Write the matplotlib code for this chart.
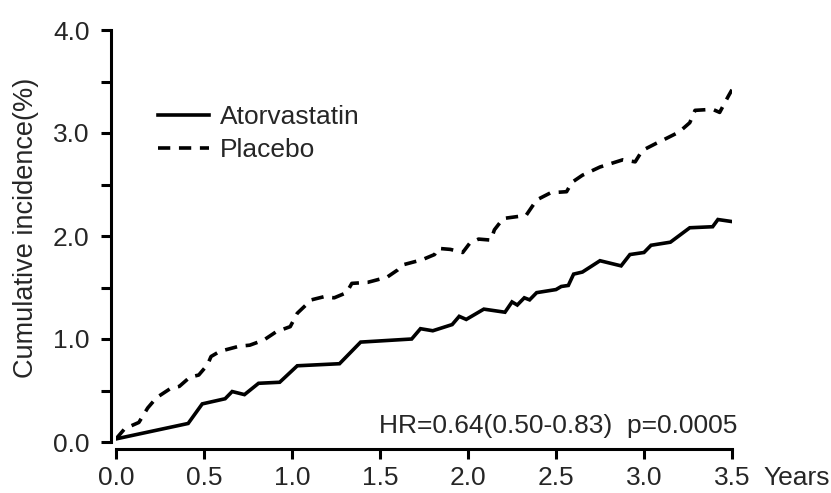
import matplotlib
matplotlib.use('Agg')
from matplotlib import pyplot as plt
from matplotlib.ticker import MultipleLocator

# (years, cumulative incidence %)
atorva_x = [0.0, 0.41, 0.49, 0.62, 0.66, 0.73, 0.81, 0.93, 1.03, 1.27, 1.39,
            1.68, 1.73, 1.80, 1.91, 1.95, 1.99, 2.09, 2.21, 2.25, 2.28, 2.32,
            2.35, 2.39, 2.50, 2.53, 2.57, 2.60, 2.65, 2.75, 2.87, 2.92, 3.00,
            3.04, 3.15, 3.26, 3.39, 3.42, 3.50]
atorva_y = [0.03, 0.18, 0.37, 0.42, 0.49, 0.46, 0.57, 0.58, 0.74, 0.76, 0.97,
            1.00, 1.10, 1.08, 1.14, 1.22, 1.19, 1.29, 1.26, 1.36, 1.33, 1.40,
            1.38, 1.45, 1.48, 1.51, 1.52, 1.63, 1.65, 1.76, 1.71, 1.82, 1.84,
            1.91, 1.94, 2.08, 2.09, 2.16, 2.14]

placebo_x = [0.0, 0.05, 0.13, 0.18, 0.23, 0.31, 0.36, 0.42, 0.47, 0.52, 0.54,
             0.59, 0.70, 0.76, 0.84, 0.91, 0.99, 1.03, 1.11, 1.18, 1.24, 1.31,
             1.34, 1.43, 1.54, 1.60, 1.63, 1.74, 1.81, 1.83, 1.90, 1.97, 2.01,
             2.06, 2.13, 2.15, 2.20, 2.33, 2.39, 2.47, 2.56, 2.59, 2.65, 2.75,
             2.88, 2.95, 2.99, 3.07, 3.13, 3.20, 3.26, 3.29, 3.39, 3.43, 3.48,
             3.50]
placebo_y = [0.03, 0.13, 0.19, 0.33, 0.43, 0.52, 0.54, 0.63, 0.65, 0.75, 0.83,
             0.88, 0.93, 0.94, 0.99, 1.07, 1.12, 1.25, 1.38, 1.41, 1.40, 1.45,
             1.54, 1.55, 1.60, 1.67, 1.72, 1.77, 1.82, 1.88, 1.87, 1.84, 1.93,
             1.97, 1.96, 2.06, 2.17, 2.20, 2.35, 2.42, 2.43, 2.52, 2.59, 2.67,
             2.74, 2.72, 2.83, 2.90, 2.95, 3.01, 3.10, 3.22, 3.23, 3.20, 3.36,
             3.42]

series_names = ["Atorvastatin", "Placebo"]
hr_text = "HR=0.64(0.50-0.83)  p=0.0005"
y_label = "Cumulative incidence(%)"
x_unit = "Years"

plt.rcParams['font.family'] = ['Liberation Sans', 'DejaVu Sans']
txt = '#262626'

fig = plt.figure(figsize=(8.31, 4.93), dpi=100)
ax = fig.add_axes([116 / 831, 51 / 493, 616 / 831, 412 / 493])

lw = 2.6
ax.plot(atorva_x, atorva_y, color='black', lw=lw, solid_joinstyle='miter',
        label=series_names[0])
ax.plot(placebo_x, placebo_y, color='black', lw=lw, dashes=(3.4, 2.4),
        label=series_names[1])

ax.set_xlim(0, 3.5)
ax.set_ylim(0, 4.0)
ax.xaxis.set_major_locator(MultipleLocator(0.5))
ax.yaxis.set_major_locator(MultipleLocator(1.0))
ax.yaxis.set_minor_locator(MultipleLocator(0.5))
ax.xaxis.set_major_formatter(lambda v, p: f"{v:.1f}")
ax.yaxis.set_major_formatter(lambda v, p: f"{v:.1f}")

for side in ['top', 'right']:
    ax.spines[side].set_visible(False)
ax.spines['left'].set_position(('outward', 3.6))
ax.spines['bottom'].set_position(('outward', 5))
ax.spines['left'].set_bounds(0, 4)
ax.spines['bottom'].set_bounds(0, 3.5)
for side in ['left', 'bottom']:
    ax.spines[side].set_linewidth(2.2)

ax.tick_params(axis='y', which='both', length=7.5, width=2.2, pad=8,
               labelsize=19, labelcolor=txt)
ax.tick_params(axis='x', which='major', length=7.5, width=2.2, pad=5,
               labelsize=19, labelcolor=txt)

ax.set_ylabel(y_label, fontsize=19.5, color=txt)
ax.yaxis.set_label_coords(-0.125, 0.52)

ax.text(3.53, 0.155, hr_text, ha='right', va='center', fontsize=19, color=txt)
ax.text(3.68, -0.087, x_unit, transform=ax.get_xaxis_transform(),
        ha='left', va='center', fontsize=19, color=txt)

leg = ax.legend(loc='upper left', bbox_to_anchor=(0.068, 0.818), frameon=False,
                fontsize=19, handlelength=1.95, handletextpad=0.4,
                borderpad=0, borderaxespad=0, labelspacing=0.34)
for t in leg.get_texts():
    t.set_color(txt)

fig.savefig('out.png', dpi=100)
